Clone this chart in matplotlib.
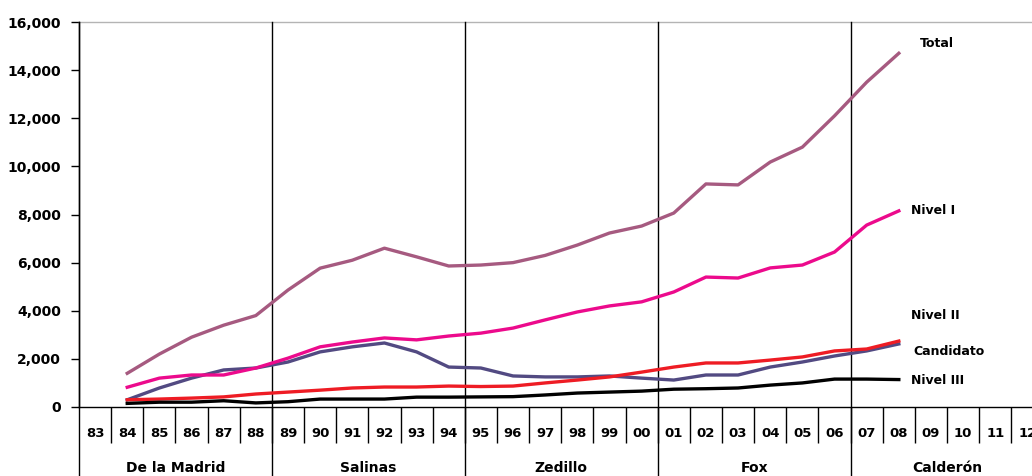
import numpy as np
import matplotlib
matplotlib.use('Agg')
import matplotlib.pyplot as plt
from matplotlib import transforms

plt.rcParams['font.family'] = 'DejaVu Sans'
plt.rcParams['font.weight'] = 'bold'

years = ['83', '84', '85', '86', '87', '88', '89', '90', '91', '92', '93', '94', '95', '96', '97',
         '98', '99', '00', '01', '02', '03', '04', '05', '06', '07', '08', '09', '10', '11', '12']

# data years 84 .. 08
total = [1400, 2200, 2900, 3400, 3800, 4860, 5770, 6100, 6600, 6240, 5860, 5900, 6000,
         6300, 6730, 7230, 7520, 8060, 9270, 9230, 10180, 10800, 12100, 13500, 14700]
nivel1 = [820, 1200, 1330, 1330, 1620, 2030, 2500, 2700, 2870, 2790, 2950, 3070, 3280,
          3620, 3950, 4200, 4370, 4780, 5400, 5360, 5780, 5900, 6440, 7560, 8150]
candidato = [300, 790, 1200, 1540, 1620, 1870, 2290, 2500, 2660, 2290, 1660, 1620, 1290,
             1250, 1250, 1290, 1200, 1120, 1330, 1330, 1660, 1870, 2120, 2330, 2620]
nivel2 = [300, 330, 370, 420, 540, 620, 700, 790, 830, 830, 870, 850, 870,
          1000, 1120, 1250, 1450, 1660, 1830, 1830, 1950, 2080, 2330, 2410, 2740]
nivel3 = [150, 200, 200, 260, 170, 220, 330, 330, 330, 410, 410, 420, 430,
          500, 580, 620, 660, 740, 760, 790, 910, 1000, 1160, 1160, 1140]

presidents = ['De la Madrid', 'Salinas', 'Zedillo', 'Fox', 'Calderón']
pres_start = [0, 6, 12, 18, 24]
pres_end = [6, 12, 18, 24, 30]

x = np.arange(1, 26) + 0.5

fig = plt.figure(figsize=(10.32, 4.76), dpi=100)
ax = fig.add_axes([79/1032, 69/476, 964.5/1032, 385/476])

ax.plot(x, total, color='#a65a80', lw=2.4, zorder=3)
ax.plot(x, candidato, color='#524a82', lw=2.4, zorder=4)
ax.plot(x, nivel1, color='#ec0a8c', lw=2.4, zorder=5)
ax.plot(x, nivel2, color='#ee1c24', lw=2.4, zorder=6)
ax.plot(x, nivel3, color='black', lw=2.4, zorder=7)

ax.set_xlim(0, 30)
ax.set_ylim(0, 16000)
ax.set_yticks(np.arange(0, 16001, 2000))
ax.set_yticklabels(['{:,}'.format(v) for v in range(0, 16001, 2000)], fontsize=10, fontweight='bold')
ax.tick_params(axis='y', length=6, width=1, pad=7)

# year separators as long ticks under the axis
ax.set_xticks(np.arange(1, 30))
ax.set_xticklabels([])
ax.tick_params(axis='x', length=26, width=1, direction='out')

ax.spines['top'].set_visible(False)
ax.spines['right'].set_visible(False)
ax.spines['left'].set_linewidth(1)
ax.spines['bottom'].set_linewidth(1)
ax.axhline(16000, color='#b4b4b4', lw=1, clip_on=False)

trans = transforms.blended_transform_factory(ax.transData, ax.transAxes)
for i, y in enumerate(years):
    ax.text(i + 0.5, -0.068, y, transform=trans, ha='center', va='center',
            fontsize=9.5, fontweight='bold')

for s, e, name in zip(pres_start, pres_end, presidents):
    ax.text((s + e) / 2, -0.158, name, transform=trans, ha='center', va='center',
            fontsize=10, fontweight='bold')
    ax.plot([s, s], [-0.2, 1], transform=trans, color='black', lw=1, clip_on=False, zorder=2)

# series labels
ax.text(26.16, 15090, 'Total', fontsize=9, fontweight='bold', va='center')
ax.text(25.88, 8150, 'Nivel I', fontsize=9, fontweight='bold', va='center')
ax.text(25.88, 3820, 'Nivel II', fontsize=9, fontweight='bold', va='center')
ax.text(25.95, 2290, 'Candidato', fontsize=9, fontweight='bold', va='center')
ax.text(25.88, 1120, 'Nivel III', fontsize=9, fontweight='bold', va='center')

plt.savefig('out.png', dpi=100)
